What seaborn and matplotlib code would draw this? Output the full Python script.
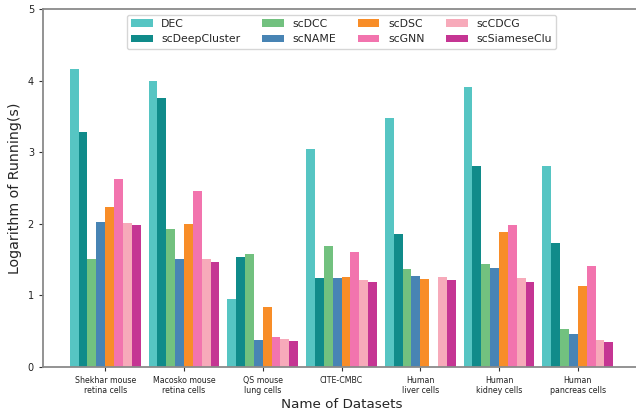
import numpy as np
import pandas as pd
import matplotlib
matplotlib.use("Agg")
import matplotlib.pyplot as plt
import seaborn as sns

datasets = [
    "Shekhar mouse\nretina cells",
    "Macosko mouse\nretina cells",
    "QS mouse\nlung cells",
    "CITE-CMBC",
    "Human\nliver cells",
    "Human\nkidney cells",
    "Human\npancreas cells",
]

methods = ["DEC", "scDeepCluster", "scDCC", "scNAME",
           "scDSC", "scGNN", "scCDCG", "scSiameseClu"]

# log10 running time (s) per method, one value per dataset
dec = [4.17, 4.00, 0.95, 3.04, 3.48, 3.91, 2.81]
scdeepcluster = [3.28, 3.76, 1.54, 1.24, 1.85, 2.81, 1.73]
scdcc = [1.51, 1.92, 1.57, 1.69, 1.36, 1.44, 0.53]
scname = [2.02, 1.51, 0.37, 1.24, 1.27, 1.38, 0.46]
scdsc = [2.23, 2.00, 0.84, 1.26, 1.23, 1.88, 1.13]
scgnn = [2.62, 2.46, 0.42, 1.61, np.nan, 1.98, 1.41]
sccdcg = [2.01, 1.51, 0.39, 1.21, 1.25, 1.24, 0.37]
scsiameseclu = [1.98, 1.46, 0.36, 1.18, 1.21, 1.18, 0.35]

series = [dec, scdeepcluster, scdcc, scname, scdsc, scgnn, sccdcg, scsiameseclu]

colors = ["#56c5c3", "#108b8a", "#72c17f", "#4884b4",
          "#f88d28", "#f274ae", "#f7aaba", "#c53593"]

rows = []
for m, vals in zip(methods, series):
    for d, v in zip(datasets, vals):
        rows.append({"Dataset": d, "Method": m, "Value": v})
df = pd.DataFrame(rows)

sns.set_style("white")
plt.rcParams["font.family"] = ["DejaVu Sans"]

fig = plt.figure(figsize=(6.36, 4.12), dpi=100)
ax = fig.add_axes([43 / 636, 45.3 / 412, 597 / 636, 357.4 / 412])

sns.barplot(data=df, x="Dataset", y="Value", hue="Method",
            order=datasets, hue_order=methods, palette=colors,
            saturation=1, width=0.9, linewidth=0, ax=ax)

ax.set_xlim(-0.79, 6.79)
ax.set_ylim(0, 5)
ax.set_yticks([0, 1, 2, 3, 4, 5])

ax.set_xlabel("Name of Datasets", fontsize=9.7, labelpad=1.5)
ax.set_ylabel("Logarithm of Running(s)", fontsize=10.2)
ax.tick_params(axis="x", labelsize=5.7, length=3, width=0.8, color="#333333",
               bottom=True, pad=4)
ax.tick_params(axis="y", labelsize=7, length=3, width=0.8, color="#333333",
               left=True)
for lab in ax.get_xticklabels():
    lab.set_color("#222222")
    lab.set_linespacing(1.15)
for lab in ax.get_yticklabels():
    lab.set_color("#222222")

for name, sp in ax.spines.items():
    sp.set_color("#8a8a8a")
    sp.set_linewidth(1.3)
ax.spines["right"].set_visible(False)

leg = ax.legend(loc="upper center", ncol=4, fontsize=7.8, frameon=True,
                columnspacing=2.0, handlelength=2.0)
leg.get_frame().set_edgecolor("#cccccc")
leg.set_title(None)

fig.savefig("out.png", dpi=100)
